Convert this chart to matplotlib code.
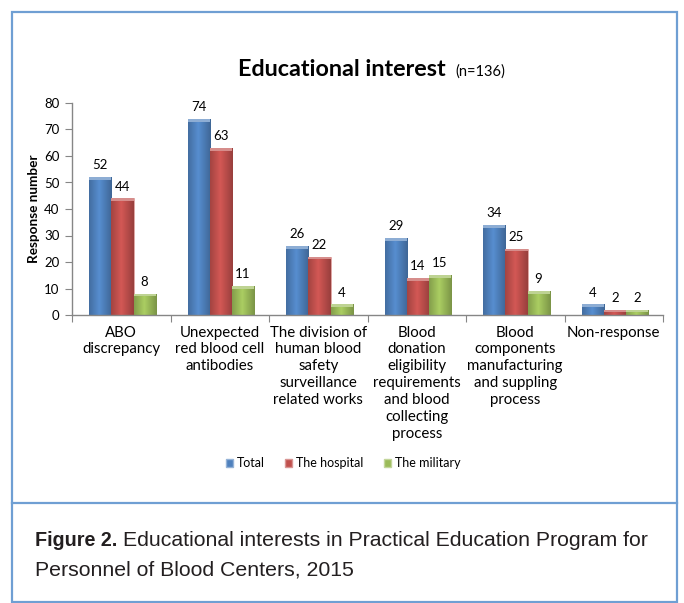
import numpy as np
import matplotlib
matplotlib.use("Agg")
import matplotlib.pyplot as plt
from matplotlib.patches import Rectangle
from matplotlib.lines import Line2D
from matplotlib.colors import to_rgb

categories = ["ABO\ndiscrepancy",
              "Unexpected\nred blood cell\nantibodies",
              "The division of\nhuman blood\nsafety\nsurveillance\nrelated works",
              "Blood\ndonation\neligibility\nrequirements\nand blood\ncollecting\nprocess",
              "Blood\ncomponents\nmanufacturing\nand suppling\nprocess",
              "Non-response"]
series_names = ["Total", "The hospital", "The military"]
total = [52, 74, 26, 29, 34, 4]
hospital = [44, 63, 22, 14, 25, 2]
military = [8, 11, 4, 15, 9, 2]
yticks = [0, 10, 20, 30, 40, 50, 60, 70, 80]

colors = ["#4F81BD", "#C0504D", "#9BBB59"]
FONT = ["Lato", "DejaVu Sans"]
plt.rcParams['font.family'] = FONT

W, H = 684, 603
fig = plt.figure(figsize=(W/100, H/100), dpi=100)

def fx(px): return px / W
def fy(py): return 1 - py / H

# outer frame and divider
border = "#6F9FD3"
fig.add_artist(Rectangle((fx(12), fy(602)), fx(677) - fx(12), fy(12) - fy(602),
                         fill=False, edgecolor=border, linewidth=1.6, transform=fig.transFigure))
fig.add_artist(Line2D([fx(12), fx(677)], [fy(503), fy(503)], color=border, linewidth=1.6,
                      transform=fig.transFigure))

ax = fig.add_axes([fx(72), fy(315), fx(663) - fx(72), fy(103) - fy(315)])
ax.set_xlim(0, len(categories))
ax.set_ylim(0, 80)

x = np.arange(len(categories)) + 0.5
bw = 0.225
data = [total, hospital, military]

def lighten(c, f):
    r = np.array(to_rgb(c))
    return tuple(r + (1 - r) * f)

for i, (vals, col) in enumerate(zip(data, colors)):
    xs = x + (i - 1) * bw + 0.012
    bars = ax.bar(xs, vals, width=bw, color=col, edgecolor=lighten(col, 0.5), linewidth=0.6, zorder=2)
    grad = np.linspace(0, 1, 64)
    prof = 1 - np.abs(grad - 0.45) * 2
    base = np.array(to_rgb(col))
    img = np.zeros((1, 64, 3))
    for k in range(64):
        img[0, k] = base * (0.82 + 0.28 * prof[k])
    img = np.clip(img, 0, 1)
    for b, v in zip(bars, vals):
        x0 = b.get_x(); x1 = x0 + b.get_width()
        im = ax.imshow(img, extent=[x0, x1, 0, v], aspect='auto', zorder=2.5, interpolation='bilinear')
        im.set_clip_path(b)
        cap = min(1.0, v * 0.5)
        ax.add_patch(Rectangle((x0, v - cap), b.get_width(), cap, facecolor=lighten(col, 0.35),
                               edgecolor='none', zorder=2.6))
        ax.text(b.get_x() + b.get_width() / 2, v + 2.2, str(v), ha='center', va='bottom',
                fontsize=9.5, color='black', zorder=3)
ax.set_ylim(0, 80)
ax.set_xlim(0, len(categories))

for s in ['top', 'right']:
    ax.spines[s].set_visible(False)
for s in ['left', 'bottom']:
    ax.spines[s].set_color('#868686')
    ax.spines[s].set_linewidth(1.0)

ax.set_yticks(yticks)
ax.set_yticklabels([str(t) for t in yticks], fontsize=9.5)
ax.tick_params(axis='y', direction='out', length=5, color='#868686', pad=4)
ax.set_xticks(np.arange(len(categories) + 1))
ax.set_xticklabels([])
ax.tick_params(axis='x', direction='out', length=5, color='#868686')
for xi, lab in zip(x, categories):
    ax.text(xi, -4.0, lab, ha='center', va='top', fontsize=10.8, linespacing=1.26,
            transform=ax.transData)
ax.set_ylabel("Response number", fontsize=9.8, fontweight='bold', labelpad=3)

# title
fig.text(fx(446), fy(70), "Educational interest", ha='right', va='center', fontsize=16.8,
         fontweight='bold')
fig.text(fx(455), fy(72), "(n=136)", ha='left', va='center', fontsize=10.5)

# legend
handles = [Rectangle((0, 0), 1, 1, facecolor=c, edgecolor=lighten(c, 0.4)) for c in colors]
fig.legend(handles, series_names, loc='center', bbox_to_anchor=(fx(343), fy(463)), ncol=3,
           frameon=False, fontsize=9, handlelength=0.6, handleheight=0.6, handletextpad=0.3,
           columnspacing=1.6)

# caption
cfont = ["Liberation Sans", "DejaVu Sans"]
fig.canvas.draw()
r = fig.canvas.get_renderer()
t1 = fig.text(fx(35), fy(546), "Figure 2.", ha='left', va='baseline', fontsize=14.2,
              fontweight='bold', family=cfont, color='#231f20')
ext = t1.get_window_extent(renderer=r)
fig.text(ext.x1 / W + fx(6), fy(546), "Educational interests in Practical Education Program for",
         ha='left', va='baseline', fontsize=15.3, family=cfont, color='#231f20')
fig.text(fx(35), fy(576), "Personnel of Blood Centers, 2015", ha='left', va='baseline',
         fontsize=15.3, family=cfont, color='#231f20')

fig.savefig("out.png", dpi=100)
